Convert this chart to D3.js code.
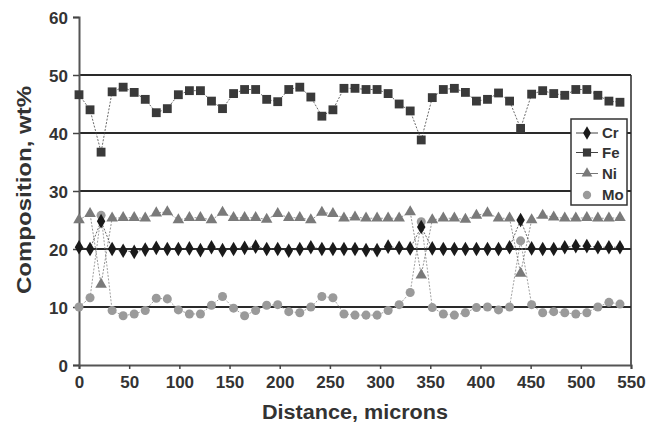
<!DOCTYPE html>
<html><head><meta charset="utf-8">
<script src="https://cdn.jsdelivr.net/npm/d3@7/dist/d3.min.js"></script>
<style>body{margin:0;background:#fff}svg{display:block}</style>
</head><body><svg id="c" width="649" height="428"></svg>
<script>
const distance = [0,11,22,33,44,55,66,77,88,99,110,121,132,143,154,165,176,187,198,209,220,231,242,253,264,275,286,297,308,319,330,341,352,363,374,385,396,407,418,429,440,451,462,473,484,495,506,517,528,539];
const cr = [20.3,20.0,24.8,20.0,19.7,19.5,19.9,20.2,20.0,20.0,20.1,19.8,20.3,19.8,20.0,20.2,20.4,20.0,20.0,19.7,20.0,20.3,20.0,20.0,20.0,20.0,19.8,19.8,20.4,20.2,20.1,23.8,20.1,20.0,20.0,20.0,20.0,20.0,20.0,20.3,25.0,20.1,20.0,20.0,20.3,20.5,20.5,20.3,20.3,20.3];
const fe = [46.6,44.0,36.7,47.1,47.9,47.0,45.8,43.5,44.2,46.6,47.3,47.3,45.5,44.2,46.8,47.5,47.5,45.8,45.4,47.5,47.9,46.2,42.9,44.0,47.7,47.7,47.5,47.5,46.8,45.0,43.8,38.8,46.1,47.5,47.7,47.0,45.5,45.8,46.9,45.5,40.8,46.7,47.3,46.8,46.5,47.5,47.5,46.5,45.5,45.3];
const ni = [25.0,26.1,13.9,25.3,25.4,25.4,25.3,26.2,26.4,25.0,25.4,25.4,25.0,26.3,25.4,25.4,25.4,25.1,26.1,25.4,25.4,25.0,26.3,26.1,25.3,25.5,25.3,25.3,25.3,25.3,26.4,15.5,25.0,25.3,25.3,25.1,25.8,26.2,25.3,25.3,15.8,25.0,25.8,25.5,25.3,25.3,25.4,25.3,25.3,25.4];
const mo = [10.0,11.6,25.8,9.4,8.5,8.8,9.4,11.5,11.4,9.5,8.8,8.8,10.3,11.8,9.8,8.5,9.4,10.3,10.4,9.2,9.0,10.0,11.8,11.6,8.8,8.6,8.6,8.6,9.4,10.4,12.5,24.7,9.9,8.8,8.6,9.0,9.9,10.0,9.5,10.0,21.4,10.4,9.0,9.2,9.0,8.8,9.0,10.0,10.8,10.5];
const seriesNames = ["Cr","Fe","Ni","Mo"];
const xTicks = [0,50,100,150,200,250,300,350,400,450,500,550];
const yTicks = [0,10,20,30,40,50,60];

const svg = d3.select("#c");
const x = d3.scaleLinear().domain([0,550]).range([79,631]);
const y = d3.scaleLinear().domain([0,60]).range([365,17]);
const font = "'Liberation Sans', Arial, sans-serif";

// gridlines
svg.append("g").selectAll("line").data([10,20,30,40,50]).join("line")
  .attr("x1",79).attr("x2",631).attr("y1",d=>y(d)).attr("y2",d=>y(d))
  .attr("stroke","#2a2a2a").attr("stroke-width",2);
// right border
svg.append("line").attr("x1",631).attr("x2",631).attr("y1",y(50)).attr("y2",y(0))
  .attr("stroke","#2a2a2a").attr("stroke-width",1.5);

// axes
const xAxis = svg.append("g").attr("transform","translate(0,365)")
  .call(d3.axisBottom(x).tickValues(xTicks).tickSize(4).tickPadding(7));
const yAxis = svg.append("g").attr("transform","translate(79,0)")
  .call(d3.axisLeft(y).tickValues(yTicks).tickSize(6).tickPadding(5));
[xAxis,yAxis].forEach(a=>{
  a.select(".domain").attr("stroke","#555").attr("stroke-width",2);
  a.selectAll(".tick line").attr("stroke","#444").attr("stroke-width",1.5);
  a.selectAll("text").attr("font-family",font).attr("font-weight","bold")
   .attr("font-size",17).attr("fill","#333");
});
yAxis.selectAll(".tick text").attr("dy","0.36em");

// axis titles
svg.append("text").attr("x",355).attr("y",419).attr("text-anchor","middle")
  .attr("font-family",font).attr("font-weight","bold").attr("font-size",20).attr("fill","#333")
  .attr("textLength",186).attr("lengthAdjust","spacingAndGlyphs")
  .text("Distance, microns");
svg.append("text").attr("transform","translate(31,190) rotate(-90)").attr("text-anchor","middle")
  .attr("font-family",font).attr("font-weight","bold").attr("font-size",20).attr("fill","#333")
  .attr("textLength",208).attr("lengthAdjust","spacingAndGlyphs")
  .text("Composition, wt%");

const data = {Cr:cr, Fe:fe, Ni:ni, Mo:mo};
const style = {
  Cr:{color:"#1a1a1a", line:"#444", shape:d3.symbolDiamond, size:62},
  Fe:{color:"#3a3a3a", line:"#444", shape:d3.symbolSquare, size:78},
  Ni:{color:"#7a7a7a", line:"#777", shape:d3.symbolTriangle, size:58},
  Mo:{color:"#9a9a9a", line:"#888", shape:d3.symbolCircle, size:64}
};
const line = d3.line().x(d=>x(d[0])).y(d=>y(d[1]));
["Mo","Ni","Cr","Fe"].forEach(name=>{
  const pts = distance.map((d,i)=>[d,data[name][i]]);
  svg.append("path").datum(pts).attr("d",line).attr("fill","none")
    .attr("stroke",style[name].line).attr("stroke-width",0.8).attr("stroke-dasharray","2,1.5");
});
["Mo","Ni","Cr","Fe"].forEach(name=>{
  const pts = distance.map((d,i)=>[d,data[name][i]]);
  svg.append("g").selectAll("path").data(pts).join("path")
    .attr("transform",d=>`translate(${x(d[0])},${y(d[1])})`)
    .attr("d",d3.symbol().type(style[name].shape).size(style[name].size))
    .attr("fill",style[name].color);
});

// legend
const lg = svg.append("g");
lg.append("rect").attr("x",571).attr("y",119).attr("width",56).attr("height",86)
  .attr("fill","#fff").attr("stroke","#333").attr("stroke-width",1.5);
const ly = [133,152.5,173.5,195];
seriesNames.forEach((name,i)=>{
  const g = lg.append("g").attr("transform",`translate(587,${ly[i]})`);
  if(name!=="Mo") g.append("line").attr("x1",-11).attr("x2",11).attr("stroke",style[name].line).attr("stroke-width",1);
  g.append("path").attr("d",d3.symbol().type(style[name].shape).size(style[name].size*0.85)).attr("fill",style[name].color);
  g.append("text").attr("x",15).attr("dy","0.36em").attr("font-family",font).attr("font-weight","bold")
    .attr("font-size",15).attr("fill","#333").text(name);
});
</script></body></html>
